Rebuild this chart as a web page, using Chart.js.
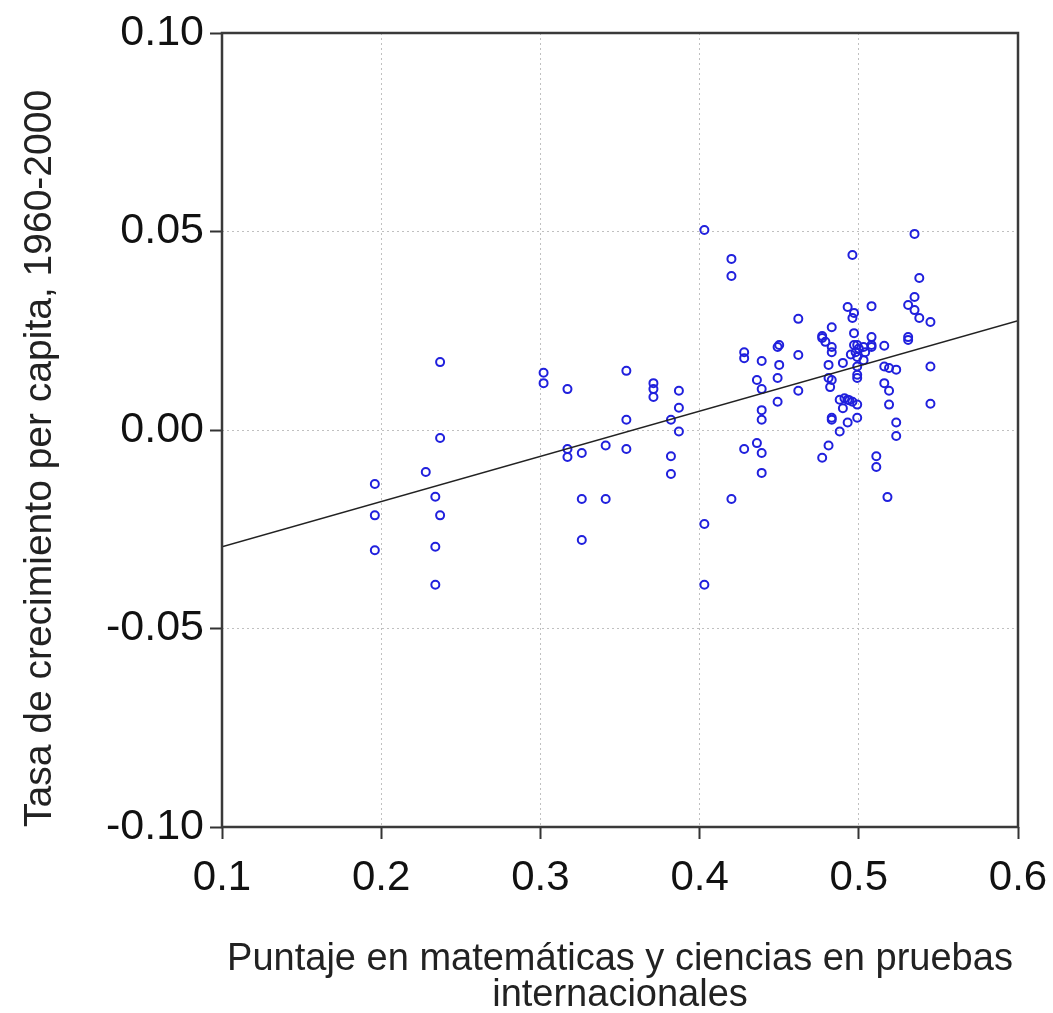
<!DOCTYPE html>
<html>
<head>
<meta charset="utf-8">
<script src="https://cdn.jsdelivr.net/npm/chart.js@4.4.0/dist/chart.umd.min.js"></script>
<style>
  html, body { margin: 0; padding: 0; background: #fff; }
  #wrap { width: 1053px; height: 1013px; }
</style>
</head>
<body>
<div id="wrap"><canvas id="scatterChart" width="1053" height="1013"></canvas></div>
<script>
// puntaje en pruebas (x) y tasa de crecimiento (y)
var scoreX = [
    0.196, 0.196, 0.196, 0.228, 0.237, 0.237, 0.234, 0.237, 0.234, 0.234,
    0.302, 0.302, 0.317, 0.317, 0.317, 0.326, 0.326, 0.326, 0.341, 0.341,
    0.354, 0.354, 0.354, 0.371, 0.371, 0.371, 0.382, 0.382, 0.382, 0.387,
    0.387, 0.387, 0.403, 0.403, 0.403, 0.420, 0.420, 0.420, 0.428, 0.428,
    0.428, 0.436, 0.436, 0.439, 0.439, 0.439, 0.439, 0.439, 0.439, 0.449,
    0.450, 0.450, 0.449, 0.449, 0.462, 0.462, 0.462, 0.477, 0.477, 0.477,
    0.479, 0.481, 0.481, 0.481, 0.483, 0.483, 0.483, 0.483, 0.482, 0.483,
    0.483, 0.488, 0.488, 0.490, 0.490, 0.493, 0.493, 0.493, 0.496, 0.497,
    0.496, 0.497, 0.496, 0.498, 0.499, 0.499, 0.499, 0.499, 0.499, 0.499,
    0.499, 0.503, 0.503, 0.504, 0.508, 0.508, 0.508, 0.508, 0.511, 0.511,
    0.516, 0.516, 0.516, 0.519, 0.519, 0.519, 0.518, 0.5235, 0.5235, 0.5235,
    0.531, 0.531, 0.531, 0.535, 0.535, 0.535, 0.538, 0.538, 0.545, 0.545,
    0.545, 0.497, 0.500, 0.495, 0.494, 0.491
];
var growthY = [
    -0.0136, -0.0215, -0.0303, -0.0106, 0.0171, -0.0020, -0.0168, -0.0215, -0.0294, -0.0390,
    0.0144, 0.0118, 0.0103, -0.0048, -0.0068, -0.0058, -0.0174, -0.0277, -0.0039, -0.0174,
    0.0149, 0.0026, -0.0048, 0.0118, 0.0103, 0.0083, 0.0026, -0.0066, -0.0111, 0.0099,
    0.0056, -0.0004, 0.0504, -0.0237, -0.0390, 0.0431, 0.0388, -0.0174, 0.0196, 0.0181,
    -0.0048, 0.0126, -0.0033, 0.0174, 0.0103, 0.0050, 0.0026, -0.0058, -0.0108, 0.0209,
    0.0214, 0.0164, 0.0131, 0.0071, 0.0280, 0.0189, 0.0099, 0.0237, 0.0232, -0.0070,
    0.0222, 0.0164, 0.0131, -0.0039, 0.0259, 0.0209, 0.0196, 0.0126, 0.0108, 0.0031,
    0.0026, -0.0004, 0.0076, 0.0169, 0.0055, 0.0310, 0.0076, 0.0019, 0.0441, 0.0295,
    0.0282, 0.0244, 0.0071, 0.0196, 0.0184, 0.0160, 0.0139, 0.0131, 0.0064, 0.0031,
    0.0214, 0.0209, 0.0176, 0.0196, 0.0312, 0.0234, 0.0209, 0.0214, -0.0066, -0.0093,
    0.0212, 0.0160, 0.0118, 0.0156, 0.0099, 0.0064, -0.0169, 0.0152, 0.0019, -0.0015,
    0.0315, 0.0234, 0.0227, 0.0494, 0.0335, 0.0302, 0.0383, 0.0282, 0.0272, 0.0160,
    0.0066, 0.0214, 0.0205, 0.0190, 0.0075, 0.0080
];

// recta de regresion (extremos)
var fitX = [0.1, 0.6];
var fitY = [-0.0294, 0.0275];

var xTicks = [0.1, 0.2, 0.3, 0.4, 0.5, 0.6];
var yTicks = [-0.10, -0.05, 0.00, 0.05, 0.10];

var points = scoreX.map(function(v, i) { return { x: v, y: growthY[i] }; });
var fitLine = fitX.map(function(v, i) { return { x: v, y: fitY[i] }; });

// marco alrededor del area del grafico
var framePlugin = {
    id: 'frame',
    afterDraw: function(chart) {
        var a = chart.chartArea, ctx = chart.ctx;
        ctx.save();
        ctx.strokeStyle = '#3a3a3a';
        ctx.lineWidth = 2.5;
        ctx.strokeRect(a.left, a.top, a.right - a.left, a.bottom - a.top);
        ctx.restore();
    }
};

var fontFam = '"Liberation Sans", Arial, sans-serif';

new Chart(document.getElementById('scatterChart'), {
    type: 'scatter',
    data: {
        datasets: [{
            label: 'datos',
            data: points,
            pointStyle: 'circle',
            pointRadius: 4,
            borderWidth: 2,
            borderColor: '#2020dd',
            backgroundColor: 'rgba(0,0,0,0)',
            order: 2
        }, {
            label: 'ajuste',
            type: 'line',
            data: fitLine,
            borderColor: '#222',
            borderWidth: 1.5,
            pointRadius: 0,
            fill: false,
            order: 1
        }]
    },
    options: {
        responsive: false,
        animation: false,
        layout: { padding: { top: 33, right: 35, left: 0, bottom: 0 } },
        plugins: { legend: { display: false }, tooltip: { enabled: false } },
        scales: {
            x: {
                type: 'linear',
                min: 0.1, max: 0.6,
                afterBuildTicks: function(s) { s.ticks = xTicks.map(function(v) { return { value: v }; }); },
                afterFit: function(s) { s.height = 186; s.paddingRight = 0; },
                ticks: {
                    color: '#111',
                    padding: 14,
                    font: { family: fontFam, size: 42 },
                    callback: function(v) { return v.toFixed(1); }
                },
                grid: {
                    color: '#c0c0c0',
                    tickBorderDash: [],
                    tickColor: '#333',
                    tickLength: 12,
                    tickWidth: 2,
                    lineWidth: 1
                },
                border: { display: false, dash: [2, 3] },
                title: {
                    display: true,
                    text: ['Puntaje en matemáticas y ciencias en pruebas', 'internacionales'],
                    color: '#222',
                    font: { family: fontFam, size: 38, lineHeight: 0.93 },
                    padding: { top: 20, bottom: 0 }
                }
            },
            y: {
                type: 'linear',
                min: -0.10, max: 0.10,
                afterBuildTicks: function(s) { s.ticks = yTicks.map(function(v) { return { value: v }; }); },
                afterFit: function(s) { s.width = 222; },
                ticks: {
                    color: '#111',
                    padding: 6,
                    font: { family: fontFam, size: 43 },
                    callback: function(v) { return v.toFixed(2); }
                },
                grid: {
                    color: '#c0c0c0',
                    tickBorderDash: [],
                    tickColor: '#333',
                    tickLength: 12,
                    tickWidth: 2,
                    lineWidth: 1
                },
                border: { display: false, dash: [2, 3] },
                title: {
                    display: true,
                    text: 'Tasa de crecimiento per capita, 1960-2000',
                    align: 'start',
                    color: '#222',
                    font: { family: fontFam, size: 39 },
                    padding: { top: 17, bottom: 0 }
                }
            }
        }
    },
    plugins: [framePlugin]
});
</script>
</body>
</html>
